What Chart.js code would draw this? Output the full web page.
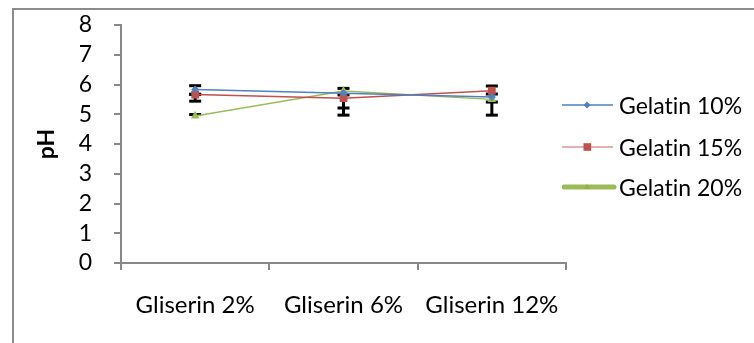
<!DOCTYPE html>
<html>
<head>
<meta charset="utf-8">
<script src="https://cdn.jsdelivr.net/npm/chart.js@4"></script>
<style>
  html,body{margin:0;padding:0;background:#fff;}
  #wrap{position:relative;width:754px;height:343px;overflow:hidden;}
  #frame{position:absolute;left:12px;top:8px;width:900px;height:500px;border-left:2px solid #8c8c8c;border-top:2px solid #8c8c8c;box-sizing:border-box;}
  canvas{position:absolute;left:0;top:0;}
  .leg{position:absolute;left:562px;height:30px;font-family:Lato,"Open Sans",sans-serif;font-size:23px;color:#000;font-variant-ligatures:none;}
  .leg svg{position:absolute;left:0;top:0;}
  .leg span{position:absolute;left:57px;top:1px;white-space:nowrap;line-height:28px;}
</style>
</head>
<body>
<div id="wrap">
  <div id="frame"></div>
  <canvas id="c" width="754" height="343"></canvas>
  <div class="leg" style="top:90px"><svg width="56" height="30"><line x1="0" y1="15" x2="51" y2="15" stroke="#4F81BD" stroke-width="1.5"/><polygon points="25,11.5 28.5,15 25,18.5 21.5,15" fill="#4F81BD"/></svg><span>Gelatin 10%</span></div>
  <div class="leg" style="top:132px"><svg width="56" height="30"><line x1="0" y1="15" x2="51" y2="15" stroke="#D99694" stroke-width="1.5"/><rect x="21.5" y="11.2" width="7.6" height="7.6" fill="#C0504D"/></svg><span>Gelatin 15%</span></div>
  <div class="leg" style="top:172px"><svg width="56" height="30"><line x1="2" y1="15" x2="52" y2="15" stroke="#9BBB59" stroke-width="5" stroke-linecap="round"/><polygon points="25,12 28,17 22,17" fill="#8DB04B"/></svg><span>Gelatin 20%</span></div>
</div>
<script>
// ---- data ----
const categories = ["Gliserin 2%", "Gliserin 6%", "Gliserin 12%"];
const gelatin10 = [5.83, 5.71, 5.58];
const gelatin15 = [5.66, 5.54, 5.79];
const gelatin20 = [4.94, 5.78, 5.50];
// error bar extents (plus / minus) per series
const err10Plus  = [0.13, 0.00, 0.10];
const err10Minus = [0.16, 0.06, 0.17];
const err15Plus  = [0.01, 0.00, 0.16];
const err15Minus = [0.22, 0.33, 0.00];
const err20Plus  = [0.05, 0.09, 0.00];
const err20Minus = [0.00, 0.81, 0.53];
const yTicks = [0, 1, 2, 3, 4, 5, 6, 7, 8];

const errors = [
  {plus: err10Plus, minus: err10Minus},
  {plus: err15Plus, minus: err15Minus},
  {plus: err20Plus, minus: err20Minus}
];

const FONT = "Lato, 'Open Sans', sans-serif";

const errorBarPlugin = {
  id: 'errorBars',
  beforeDatasetsDraw(chart) {
    const ctx = chart.ctx;
    const xs = chart.scales.x, ys = chart.scales.y;
    ctx.save();
    ctx.strokeStyle = '#000';
    ctx.lineWidth = 3;
    chart.data.datasets.forEach((ds, di) => {
      const e = errors[di];
      ds.data.forEach((v, i) => {
        const x = xs.getPixelForValue(i);
        const yTop = ys.getPixelForValue(v + e.plus[i]);
        const yBot = ys.getPixelForValue(v - e.minus[i]);
        ctx.beginPath();
        ctx.moveTo(x, yTop); ctx.lineTo(x, yBot);
        ctx.stroke();
        const half = 6;
        if (e.plus[i] > 0) { ctx.beginPath(); ctx.moveTo(x - half, yTop); ctx.lineTo(x + half, yTop); ctx.stroke(); }
        if (e.minus[i] > 0) { ctx.beginPath(); ctx.moveTo(x - half, yBot); ctx.lineTo(x + half, yBot); ctx.stroke(); }
      });
    });
    ctx.restore();
  }
};

new Chart(document.getElementById('c'), {
  type: 'line',
  data: {
    labels: categories,
    datasets: [
      {label: 'Gelatin 10%', data: gelatin10, borderColor: '#4F81BD', backgroundColor: '#4F81BD', borderWidth: 1.5, pointStyle: 'rectRot', pointRadius: 4, pointBorderWidth: 0, tension: 0},
      {label: 'Gelatin 15%', data: gelatin15, borderColor: '#C0504D', backgroundColor: '#C0504D', borderWidth: 1.5, pointStyle: 'rect', pointRadius: 5.5, pointBorderWidth: 0, tension: 0},
      {label: 'Gelatin 20%', data: gelatin20, borderColor: '#9BBB59', backgroundColor: '#9BBB59', borderWidth: 1.5, pointStyle: 'triangle', pointRadius: 5, pointBorderWidth: 0, tension: 0}
    ]
  },
  options: {
    responsive: false,
    animation: false,
    layout: {padding: {left: 33, right: 188, top: 25, bottom: 0}},
    plugins: {legend: {display: false}, tooltip: {enabled: false}},
    scales: {
      x: {
        offset: true,
        grid: {offset: true, drawOnChartArea: false, drawTicks: true, tickLength: 7, color: '#888', lineWidth: 2},
        border: {display: true, color: '#888', width: 2},
        ticks: {color: '#000', font: {family: FONT, size: 24}, padding: 21, maxRotation: 0, autoSkip: false},
        afterFit(s) { s.height = 80; s.paddingLeft = 0; s.paddingRight = 0; }
      },
      y: {
        min: 0, max: 8,
        afterBuildTicks(s) { s.ticks = yTicks.map(v => ({value: v})); },
        grid: {drawOnChartArea: false, drawTicks: true, tickLength: 7, color: '#888', lineWidth: 2},
        border: {display: true, color: '#888', width: 2},
        ticks: {color: '#000', font: {family: FONT, size: 23}, padding: 22, autoSkip: false},
        title: {display: true, text: 'pH', color: '#000', font: {family: FONT, size: 23, weight: 'bold'}, padding: 0},
        afterFit(s) { s.width = 88; s.paddingTop = 0; s.paddingBottom = 0; }
      }
    }
  },
  plugins: [errorBarPlugin]
});
</script>
</body>
</html>
